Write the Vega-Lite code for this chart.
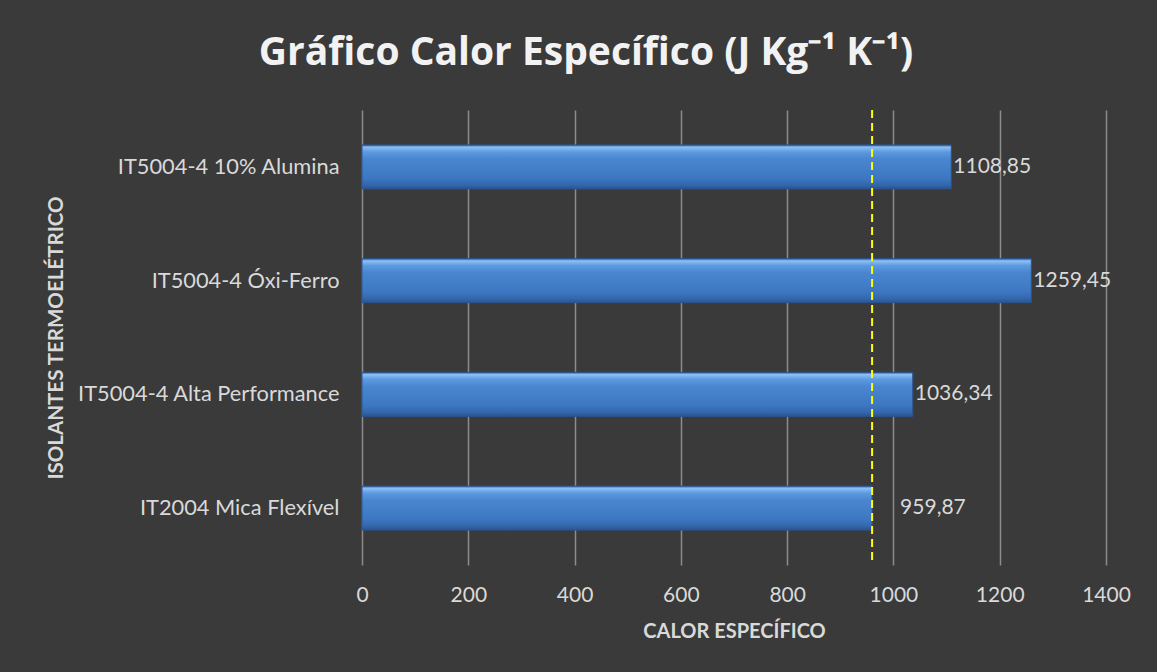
{
  "$schema": "https://vega.github.io/schema/vega-lite/v6.json",
  "width": 744,
  "height": 455,
  "autosize": {"type": "none"},
  "padding": {"left": 362, "top": 110, "right": 51, "bottom": 107},
  "background": "#3a3a3a",
  "config": {
    "view": {"stroke": null},
    "font": "Lato",
    "locale": {
      "number": {"decimal": ",", "thousands": ".", "grouping": [3], "currency": ["R$", ""]}
    }
  },
  "title": {
    "text": "Gráfico Calor Específico (J Kg⁻¹ K⁻¹)",
    "font": "Open Sans",
    "fontSize": 39,
    "fontWeight": "bold",
    "color": "#f2f2f2",
    "anchor": "middle",
    "dx": -148,
    "offset": 36
  },
  "data": {
    "values": [
      {"material": "IT5004-4 10% Alumina", "valor": 1108.85},
      {"material": "IT5004-4 Óxi-Ferro", "valor": 1259.45},
      {"material": "IT5004-4 Alta Performance", "valor": 1036.34},
      {"material": "IT2004 Mica Flexível", "valor": 959.87}
    ]
  },
  "encoding": {
    "y": {
      "field": "material",
      "type": "nominal",
      "sort": null,
      "scale": {"paddingInner": 0.613, "paddingOuter": 0.307},
      "axis": {
        "title": "ISOLANTES TERMOELÉTRICO",
        "titleFont": "Lato",
        "titleFontSize": 20.5,
        "titleFontWeight": "bold",
        "titleColor": "#d9d9d9",
        "titleAngle": -90,
        "titleAlign": "center",
        "titleBaseline": "middle",
        "titleX": -306,
        "titleY": 227.5,
        "labelFont": "Lato",
        "labelFontSize": 21.8,
        "labelColor": "#d9d9d9",
        "labelPadding": 23,
        "labelLimit": 0,
        "ticks": false,
        "domain": false,
        "grid": false
      }
    },
    "x": {
      "field": "valor",
      "type": "quantitative",
      "scale": {"domain": [0, 1400], "nice": false},
      "axis": {
        "values": [0, 200, 400, 600, 800, 1000, 1200, 1400],
        "format": "d",
        "title": "CALOR ESPECÍFICO",
        "titleFont": "Lato",
        "titleFontSize": 20,
        "titleFontWeight": "bold",
        "titleColor": "#d9d9d9",
        "titlePadding": 16,
        "labelFont": "Lato",
        "labelFontSize": 21,
        "labelColor": "#d9d9d9",
        "labelPadding": 19,
        "labelFlush": false,
        "ticks": false,
        "domain": false,
        "grid": true,
        "gridColor": "#8c8c8c",
        "gridWidth": 1.5
      }
    }
  },
  "layer": [
    {
      "mark": {
        "type": "bar",
        "stroke": "#2a5490",
        "strokeWidth": 1,
        "fill": {
          "gradient": "linear",
          "x1": 0, "y1": 0, "x2": 0, "y2": 1,
          "stops": [
            {"offset": 0, "color": "#2f5f9f"},
            {"offset": 0.05, "color": "#8ec0f5"},
            {"offset": 0.16, "color": "#5c9ae0"},
            {"offset": 0.32, "color": "#4a86d0"},
            {"offset": 0.75, "color": "#3d77c2"},
            {"offset": 0.9, "color": "#3468ae"},
            {"offset": 1, "color": "#2a5590"}
          ]
        }
      }
    },
    {
      "transform": [{"filter": "datum.material === 'IT2004 Mica Flexível'"}],
      "mark": {"type": "rule", "color": "#ffff00", "strokeWidth": 2, "strokeDash": [8, 5]},
      "encoding": {"y": null}
    },
    {
      "transform": [{"filter": "datum.material !== 'IT2004 Mica Flexível'"}],
      "mark": {"type": "text", "align": "left", "baseline": "middle", "dx": 2, "fontSize": 21, "font": "Lato", "color": "#d9d9d9"},
      "encoding": {"text": {"field": "valor", "type": "quantitative", "format": ".2f"}}
    },
    {
      "transform": [{"filter": "datum.material === 'IT2004 Mica Flexível'"}],
      "mark": {"type": "text", "align": "left", "baseline": "middle", "dx": 28, "fontSize": 21, "font": "Lato", "color": "#d9d9d9"},
      "encoding": {"text": {"field": "valor", "type": "quantitative", "format": ".2f"}}
    }
  ]
}
